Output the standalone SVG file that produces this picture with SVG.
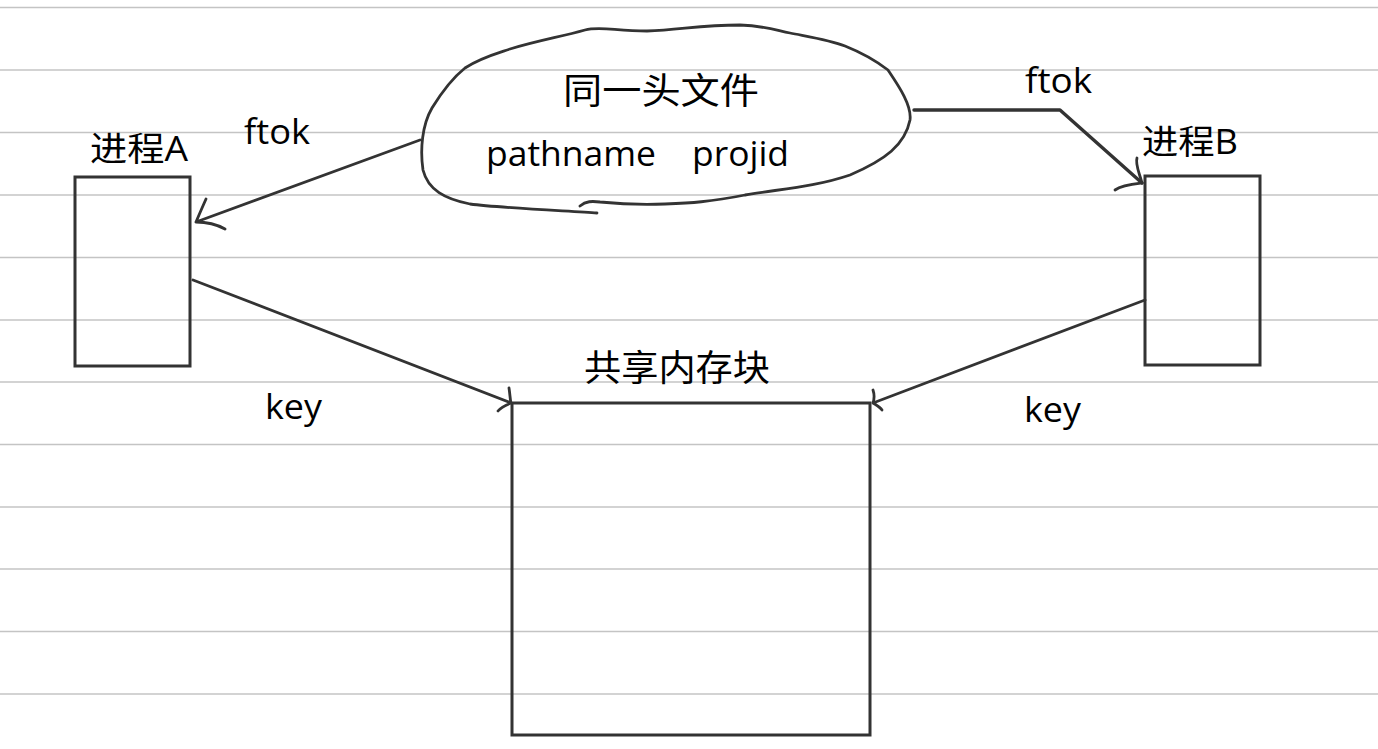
<svg xmlns="http://www.w3.org/2000/svg" width="1378" height="749" viewBox="0 0 1378 749">
<style>
.rule{stroke:#c4c4c4;stroke-width:1.6}
.box{fill:none;stroke:#333;stroke-width:3}
.ln{fill:none;stroke:#333;stroke-width:2.8;stroke-linecap:round;stroke-linejoin:round}
.t{font-family:"Open Sans","Noto Sans","Noto Sans CJK SC",sans-serif;fill:#000}
</style>
<rect width="1378" height="749" fill="#fff"/>
<g id="rules">
<line class="rule" x1="0" y1="7.5" x2="1378" y2="7.5"/>
<line class="rule" x1="0" y1="70" x2="1378" y2="70"/>
<line class="rule" x1="0" y1="132.5" x2="1378" y2="132.5"/>
<line class="rule" x1="0" y1="195" x2="1378" y2="195"/>
<line class="rule" x1="0" y1="257.5" x2="1378" y2="257.5"/>
<line class="rule" x1="0" y1="320" x2="1378" y2="320"/>
<line class="rule" x1="0" y1="382" x2="1378" y2="382"/>
<line class="rule" x1="0" y1="444.5" x2="1378" y2="444.5"/>
<line class="rule" x1="0" y1="507" x2="1378" y2="507"/>
<line class="rule" x1="0" y1="569" x2="1378" y2="569"/>
<line class="rule" x1="0" y1="631.5" x2="1378" y2="631.5"/>
<line class="rule" x1="0" y1="694" x2="1378" y2="694"/>
</g>
<g id="cloud">
<path class="ln" d="M597 213 C570 211 500 208 470 204 C445 199 428 190 423 170 C420 150 422 125 432 108 C440 95 450 80 465 68 C480 58 495 54 510 49 C540 40 560 37 585 30 C600 26 615 31 647 31 C680 30 700 25 740 25 C765 26 775 30 790 33 C810 37 830 40 845 46 C860 52 875 60 888 70 C898 85 912 105 910 120 C905 145 885 160 850 175 C815 187 780 189 745 195 C710 202 690 203 665 204 C640 205 610 203 600 202 C592 201 586 201 580 206"/>
<text class="t" x="563" y="104" font-size="36" textLength="196" lengthAdjust="spacingAndGlyphs">同一头文件</text>
<text class="t" x="486" y="166" font-size="35" textLength="170" lengthAdjust="spacingAndGlyphs">pathname</text>
<text class="t" x="692" y="166" font-size="35" textLength="97" lengthAdjust="spacingAndGlyphs">projid</text>
</g>
<g id="procA">
<rect class="box" x="75" y="177" width="115" height="189"/>
<text class="t" x="90" y="161" font-size="34" textLength="98" lengthAdjust="spacingAndGlyphs">进程A</text>
</g>
<g id="procB">
<rect class="box" x="1145" y="176" width="115" height="189"/>
<text class="t" x="1142" y="154" font-size="34" textLength="96" lengthAdjust="spacingAndGlyphs">进程B</text>
</g>
<g id="shm">
<rect class="box" x="512" y="403" width="358" height="332"/>
<text class="t" x="584" y="381" font-size="36" textLength="186" lengthAdjust="spacingAndGlyphs">共享内存块</text>
</g>
<g id="connectors">
<path class="ln" d="M420 140 L196 222 M206 199 C202 208 199 215 196 222 C206 222 216 224 225 229"/>
<path class="ln" style="stroke-width:3.4" d="M914 110 L1060 110 L1142 183"/>
<path class="ln" d="M1137 158 C1135 164 1139 172 1142 183 C1133 184 1122 185 1115 190"/>
<path class="ln" d="M193 280 L511 403 M509 388 C510 394 510 399 511 403 C506 405 501 407 498 411"/>
<path class="ln" d="M1145 300 L873 403 M873 390 C875 396 874 400 873 403 C876 405 880 407 882 410"/>
<text class="t" x="244" y="144" font-size="34" textLength="66" lengthAdjust="spacingAndGlyphs">ftok</text>
<text class="t" x="1025" y="93" font-size="34" textLength="67" lengthAdjust="spacingAndGlyphs">ftok</text>
<text class="t" x="265" y="419" font-size="34" textLength="57" lengthAdjust="spacingAndGlyphs">key</text>
<text class="t" x="1024" y="422" font-size="34" textLength="57" lengthAdjust="spacingAndGlyphs">key</text>
</g>
</svg>
